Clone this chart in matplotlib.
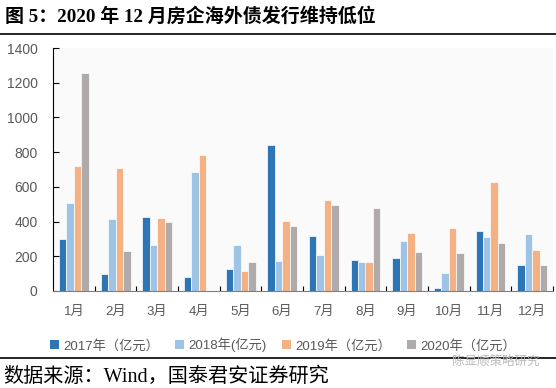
import numpy as np
import matplotlib.pyplot as plt
from matplotlib.patches import Patch

plt.rcParams['font.family'] = ['Liberation Sans', 'Noto Sans CJK SC']

# 月份与各年发行额（亿元）
months = ['1月', '2月', '3月', '4月', '5月', '6月', '7月', '8月', '9月', '10月', '11月', '12月']
v2017 = [300, 98, 427, 81, 127, 842, 317, 179, 190, 17, 346, 150]
v2018 = [508, 413, 265, 687, 265, 173, 208, 167, 288, 104, 311, 329]
v2019 = [721, 710, 421, 785, 115, 404, 525, 167, 335, 363, 629, 237]
v2020 = [1258, 231, 398, 0, 167, 375, 496, 479, 225, 219, 277, 150]
series_names = ['2017年（亿元）', '2018年(亿元)', '2019年（亿元）', '2020年（亿元）']
colors = ['#2E75B6', '#9DC3E6', '#F4B183', '#AFABAB']

fig = plt.figure(figsize=(5.56, 3.88), dpi=100)
ax = fig.add_axes([53 / 556, 1 - 291 / 388, 500 / 556, 243 / 388])
ax.set_facecolor('#fafafa')

x = np.arange(len(months))
w = 0.18
for k, vals in enumerate([v2017, v2018, v2019, v2020]):
    ax.bar(x + (k - 1.5) * w, vals, w, color=colors[k], edgecolor='white', linewidth=0.5)

ax.set_xlim(-0.5, 11.5)
ax.set_ylim(0, 1400)
ax.set_yticks(range(0, 1401, 200))
ax.set_xticks(x)
ax.set_xticklabels(months)
ax.set_xticks(np.arange(0.5, 12, 1), minor=True)
ax.tick_params(axis='y', direction='in', length=4, width=0.8, color='black',
               labelsize=10, labelcolor='#595959', pad=11)
ax.tick_params(axis='x', which='major', length=0, labelsize=9.5, labelcolor='#595959', pad=11)
ax.tick_params(axis='x', which='minor', direction='in', length=3.5, width=0.8, color='black')
for s in ['top', 'right']:
    ax.spines[s].set_visible(False)
ax.spines['left'].set_color('black')
ax.spines['left'].set_linewidth(0.8)
ax.spines['bottom'].set_color('#7f7f7f')
ax.spines['bottom'].set_linewidth(0.8)

handles = [Patch(facecolor=c) for c in colors]
fig.legend(handles, series_names, loc='center', bbox_to_anchor=(283 / 556, 1 - 345 / 388),
           ncol=4, frameon=False, fontsize=9.5, labelcolor='#595959',
           handlelength=0.7, handleheight=0.7, handletextpad=0.3, columnspacing=1.2)

# 标题与分隔线
fig.text(5 / 556, 1 - 16 / 388, '图 5：2020 年 12 月房企海外债发行维持低位',
         family=['Liberation Serif', 'Noto Sans CJK SC'], fontweight='bold',
         fontsize=13.7, va='center', ha='left')
fig.add_artist(plt.Line2D([0, 1], [1 - 34 / 388, 1 - 34 / 388], color='black', lw=1.2))
fig.add_artist(plt.Line2D([0, 1], [1 - 358 / 388, 1 - 358 / 388], color='black', lw=1.2))

fig.text(3 / 556, 1 - 377 / 388, '数据来源：Wind，国泰君安证券研究',
         family=['Liberation Serif', 'Noto Sans CJK SC'], fontsize=14.5, va='center', ha='left')
fig.text(452 / 556, 1 - 362 / 388, '陈显顺策略研究', color='#bbbbbb', fontsize=9,
         va='center', ha='left', family=['Noto Sans CJK SC'])

fig.savefig('out.png', dpi=100)
